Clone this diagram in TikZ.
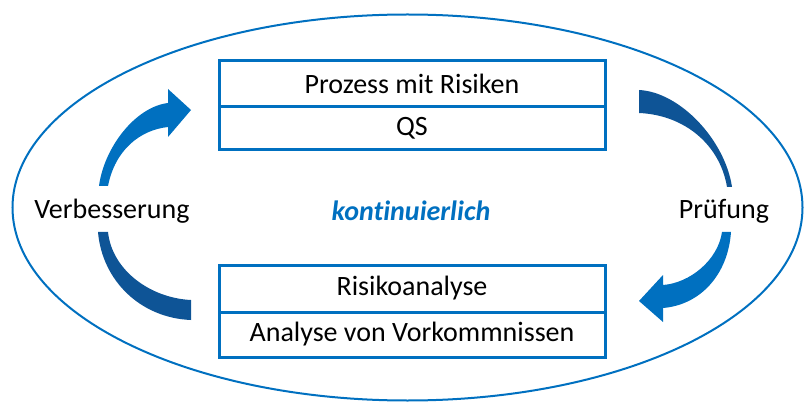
\documentclass[tikz,border=0pt]{standalone}
\usepackage{fontspec}
\setmainfont{Carlito}[Ligatures=NoCommon]
\definecolor{lblue}{RGB}{0,112,192}
\definecolor{dblue}{RGB}{14,84,150}
\tikzset{
  rowbox/.style={draw=lblue, line width=3pt, minimum width=386pt, inner sep=0pt, font=\fontsize{28}{32}\selectfont},
  lbl/.style={font=\fontsize{28}{32}\selectfont, inner sep=0pt},
  larrow/.style={fill=lblue, draw=none},
  darrow/.style={fill=dblue, draw=none}
}
\begin{document}
\begin{tikzpicture}[x=1pt,y=-1pt]
\useasboundingbox (0,0) rectangle (805,403);
\draw[lblue, line width=2pt] (407.5,207.5) ellipse [x radius=395, y radius=193];
% top box
\node[rowbox, minimum height=46pt] (p1) at (412,84) {Prozess mit Risiken};
\node[rowbox, minimum height=43pt] (p2) at (412,128.5) {QS};
% bottom box
\node[rowbox, minimum height=47pt] (r1) at (412,288.5) {Risikoanalyse};
\node[rowbox, minimum height=45pt] (r2) at (412,334.5) {Analyse von Vorkommnissen};
% labels
\node[lbl] (verb) at (112,211) {Verbesserung};
\node[lbl] (pruef) at (724,211) {Prüfung};
\node[lbl, text=lblue, font=\fontsize{28}{32}\selectfont\bfseries\itshape] (kont) at (411,211) {kontinuierlich};
% left top arrow
\fill[larrow] (99,186) .. controls (104,148) and (135,107) .. (168,103)
  -- (168,89) -- (191,110) -- (168,137) -- (168,127)
  .. controls (140,130) and (115,150) .. (108,186) -- cycle;
% left bottom tail
\fill[darrow] (98,232) .. controls (102,280) and (140,318) .. (191,320)
  -- (191,300) .. controls (150,298) and (112,270) .. (108,232) -- cycle;
% right top tail
\fill[darrow] (639,90) .. controls (680,92) and (725,140) .. (732,187)
  -- (727,187) .. controls (720,145) and (685,115) .. (639,113) -- cycle;
% right bottom arrow
\fill[larrow] (731,232) .. controls (728,275) and (700,305) .. (663,308)
  -- (663,322) -- (639,301) -- (663,275) -- (663,285)
  .. controls (690,283) and (718,260) .. (722,232) -- cycle;
\end{tikzpicture}
\end{document}
